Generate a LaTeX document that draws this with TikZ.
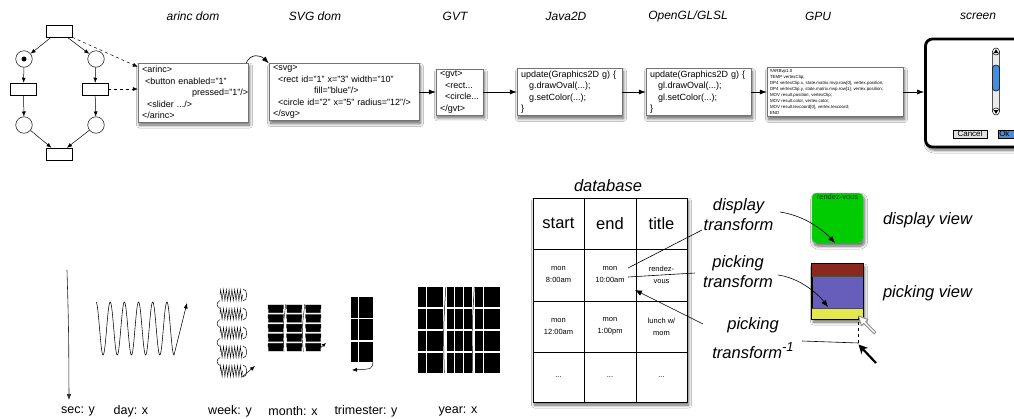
\documentclass[tikz,border=0pt]{standalone}
\usepackage{fontspec}
\setmainfont{Liberation Sans}
\usetikzlibrary{arrows.meta,shadows.blur,decorations.pathmorphing,calc}
\definecolor{viewgreen}{RGB}{0,204,0}
\definecolor{pred}{RGB}{139,40,30}
\definecolor{ppurple}{RGB}{102,94,186}
\definecolor{pyellow}{RGB}{229,232,77}
\definecolor{uiblue}{RGB}{74,140,216}
\begin{document}
\begin{tikzpicture}[x=1pt,y=-1pt,
  shad/.style={blur shadow={shadow xshift=1.5pt, shadow yshift=-3pt, shadow blur steps=8, shadow blur radius=3pt, shadow opacity=60}},
  codebox/.style={draw=black!55, line width=0.4pt, fill=white, shad, align=left, inner xsep=4pt, inner ysep=2pt, font=\fontsize{9}{11.4}\selectfont},
  title/.style={font=\fontsize{12}{14}\selectfont\itshape},
  biglabel/.style={font=\fontsize{16.5}{20}\selectfont\itshape, align=center, inner sep=1pt},
  tl/.style={font=\fontsize{12.5}{14}\selectfont},
  place/.style={circle, draw, line width=0.5pt, minimum size=16.5pt, inner sep=0pt},
  trans/.style={rectangle, draw, line width=0.5pt, minimum width=26pt, minimum height=12pt, inner sep=0pt},
  pn/.style={-{Latex[length=5pt,width=4pt]}, line width=0.5pt},
  flow/.style={-{Latex[length=7pt,width=5pt]}, line width=0.6pt},
  conn/.style={line width=0.6pt},
  carrow/.style={-{Latex[length=7pt,width=5.5pt]}, line width=0.6pt},
  dbhead/.style={font=\fontsize{16.5}{18}\selectfont, inner sep=0pt},
  dbcell/.style={font=\fontsize{7.5}{12}\selectfont, align=center, inner sep=0pt},
  zz/.style={line width=0.45pt, decorate},
  btn/.style={draw, line width=0.5pt, minimum height=8.5pt, inner ysep=0pt, font=\fontsize{8}{8}\selectfont}
]
\useasboundingbox (0,0) rectangle (1014,418);
\fill[white] (0,0) rectangle (1014,418);

% ---------- titles ----------
\node[title] (tarinc) at (193,16) {arinc dom};
\node[title] (tsvg) at (315,16) {SVG dom};
\node[title] (tgvt) at (455,16) {GVT};
\node[title] (tjava) at (566,16) {Java2D};
\node[title] (tgl) at (688,16) {OpenGL/GLSL};
\node[title] (tgpu) at (818,16) {GPU};
\node[title] (tscreen) at (978,16) {screen};

% ---------- Petri net ----------
\node[trans] (t0) at (59,31) {};
\node[place] (p1) at (24,59) {};
\node[circle, fill, inner sep=0pt, minimum size=5pt] (tok) at (24,59) {};
\node[place] (p2) at (96,59) {};
\node[trans] (t1) at (23.5,89) {};
\node[trans] (t2) at (95,89) {};
\node[place] (p3) at (24,125) {};
\node[place] (p4) at (96,125) {};
\node[trans] (t3) at (59,154) {};
\draw[pn] (t0) -- (p1);
\draw[pn] (t0) -- (p2);
\draw[pn] (p1) -- (t1);
\draw[pn] (p2) -- (t2);
\draw[pn] (t1) -- (p3);
\draw[pn] (t2) -- (p4);
\draw[pn] (p3) -- (t3);
\draw[pn] (p4) -- (t3);

% ---------- pipeline boxes ----------
\node[codebox, text width=102pt, minimum height=59pt] (arinc) at (193,92.5)
  {<arinc>\\\hspace*{3pt}<button enabled="1"\\\hspace*{50pt}pressed="1"/>\\\hspace*{5pt}<slider .../>\\</arinc>};
\node[codebox, text width=142pt, minimum height=57pt] (svg) at (344,92)
  {<svg>\\\hspace*{5pt}<rect id="1" x="3" width="10"\\\hspace*{41pt}fill="blue"/>\\\hspace*{5pt}<circle id="2" x="5" radius="12"/>\\</svg>};
\node[codebox, text width=39pt, minimum height=45pt] (gvt) at (459.5,92)
  {<gvt>\\\hspace*{5pt}<rect...\\\hspace*{5pt}<circle...\\</gvt>};
\node[codebox, text width=97pt, minimum height=47pt] (java) at (569.5,92)
  {update(Graphics2D g) \{\\\hspace*{8pt}g.drawOval(...);\\\hspace*{8pt}g.setColor(...);\\\}};
\node[codebox, text width=97pt, minimum height=47pt] (opengl) at (698.5,92)
  {update(Graphics2D g) \{\\\hspace*{8pt}gl.drawOval(...);\\\hspace*{8pt}gl.setColor(...);\\\}};
\node[codebox, text width=130pt, inner xsep=3pt, minimum height=47pt, font=\fontsize{4.4}{6}\selectfont] (gpu) at (835,92)
  {!!ARBvp1.0\\TEMP vertexClip;\\DP4 vertexClip.x, state.matrix.mvp.row[0], vertex.position;\\DP4 vertexClip.y, state.matrix.mvp.row[1], vertex.position;\\MOV result.position, vertexClip;\\MOV result.color, vertex.color;\\MOV result.texcoord[0], vertex.texcoord;\\END};

% screen
\node[draw, line width=2.8pt, rounded corners=7pt, fill=white, shad, minimum width=105pt, minimum height=108pt, inner sep=0pt] (screen) at (978,93) {};
\draw[fill=black!8, rounded corners=3.5pt, line width=0.5pt] (992.3,50) rectangle (999.7,113);
\draw[fill=uiblue, rounded corners=3.5pt, line width=0.5pt] (992.3,65) rectangle (999.7,91);
\draw[fill=white, line width=0.5pt] (996,51.5) circle (3.5pt);
\fill (996,49.2) -- (998.3,53) -- (993.7,53) -- cycle;
\draw[fill=white, line width=0.5pt] (996,111.5) circle (3.5pt);
\fill (996,113.8) -- (998.3,110) -- (993.7,110) -- cycle;
\node[btn, fill=black!12, minimum width=34pt, inner xsep=0pt] (cancel) at (970,134) {Cancel};
\node[btn, fill=uiblue, anchor=west, text width=22pt, inner xsep=1pt, align=left] (ok) at (998,134) {Ok};

% pipeline connectors
\draw[pn, dashed] (t0.south east) -- ([yshift=-4pt]arinc.north west);
\draw[pn, dashed] (t2.east) -- (t2.east -| arinc.west);
\draw[flow] ([xshift=-2pt]arinc.north east) .. controls +(5,-10) and +(-8,-8) .. (svg.north west);
\draw[flow] (svg.east) -- (svg.east -| gvt.west);
\draw[flow] (gvt.east) -- (gvt.east -| java.west);
\draw[flow] (java.east) -- (java.east -| opengl.west);
\draw[flow] (opengl.east) -- (opengl.east -| gpu.west);
\draw[flow] (gpu.east) -- (gpu.east -| screen.west);

% ---------- time scales ----------
\coordinate (sectop) at (67,270);
\coordinate (secbot) at (69,400);
\draw[-{Latex[length=6pt,width=4.5pt]}, line width=0.6pt, black!85] (sectop) .. controls (68.7,330) .. (secbot);

\draw[-{Latex[length=5.5pt,width=4pt]}, line width=0.55pt] plot[domain=0:5.5, samples=221, smooth] ({96+\x*14.18}, {328.5-26.5*cos(360*\x)}) -- (187,303);

% week
\foreach \i in {0,...,4} {
  \pgfmathsetmacro\c{295+19*\i}
  \draw[zz, decoration={zigzag, segment length=2.8pt, amplitude=5.5pt}] (220,\c) -- (243,\c);
  \draw[line width=0.45pt] (243,\c-6) .. controls (248,\c-6) and (248,\c+6) .. (243,\c+6);
}
\foreach \i in {0,...,3} {
  \pgfmathsetmacro\c{295+19*\i}
  \draw[line width=0.45pt] (220,\c+5.5) .. controls (216,\c+8) and (216,\c+11) .. (220,\c+13.5);
}
\draw[-{Latex[length=5pt,width=4pt]}, line width=0.5pt] (242,377) -- (255,366);

% month
\foreach \xx in {268,286.5,305.5} {
  \foreach \j in {0,...,4} {
    \draw[zz, decoration={zigzag, segment length=1pt, amplitude=4.2pt}] (\xx,308.8+9.6*\j) -- (\xx+15.5,308.8+9.6*\j);
  }
}
\draw[line width=0.4pt] (284,352) .. controls (282.5,330) .. (285.8,304);
\draw[line width=0.4pt] (303.3,352) .. controls (301.8,330) .. (304.8,304);
\draw[-{Latex[length=4pt,width=3.5pt]}, line width=0.5pt] (318,350) -- (326,343);

% trimester
\foreach \yy in {297,319.3,341.6} {
  \foreach \xx in {351,358.7,366.4} {
    \fill (\xx,\yy) rectangle ++(7,20.5);
  }
}
\draw[-{Latex[length=5pt,width=4pt]}, line width=0.5pt] (373,362) .. controls (372,369) .. (352,370);

% year
\foreach \bx in {418,446.5,475} {
  \foreach \yy in {287,309,331,353} {
    \foreach \s in {0,1,2} {
      \fill (\bx+\s*8.6,\yy) rectangle ++(7.9,20.3);
    }
  }
}
\draw[line width=0.5pt] (444.3,373) .. controls (443.3,330) .. (445.8,287);
\draw[line width=0.5pt] (472.8,373) .. controls (471.8,330) .. (474.3,287);

\node[tl] (lsec) at (78,411) {sec: y};
\node[tl] (lday) at (131,411) {day: x};
\node[tl] (lweek) at (230,411) {week: y};
\node[tl] (lmonth) at (293,411) {month: x};
\node[tl] (ltrim) at (366,411) {trimester: y};
\node[tl] (lyear) at (458,411) {year: x};

% ---------- database ----------
\node[biglabel] (dbl) at (608,186) {database};
\node[draw, line width=0.8pt, fill=white, shad, minimum width=154pt, minimum height=204pt, inner sep=0pt] (db) at (610,300) {};
\draw[line width=0.7pt] (584,198) -- (584,402) (636,198) -- (636,402);
\draw[line width=0.7pt] (533,249) -- (687,249) (533,301) -- (687,301) (533,352) -- (687,352);
\node[dbhead] (hstart) at (558.5,223.5) {start};
\node[dbhead] (hend) at (610,223.5) {end};
\node[dbhead] (htitle) at (661.5,223.5) {title};
\node[dbcell] (c11) at (558.5,275) {mon\\8:00am};
\node[dbcell] (c12) at (610,275) {mon\\10:00am};
\node[dbcell] (c13) at (661.5,275) {rendez-\\vous};
\node[dbcell] (c21) at (558.5,326.5) {mon\\12:00am};
\node[dbcell] (c22) at (610,326.5) {mon\\1:00pm};
\node[dbcell] (c23) at (661.5,326.5) {lunch w/\\mom};
\node[dbcell] (c31) at (558.5,377) {...};
\node[dbcell] (c32) at (610,377) {...};
\node[dbcell] (c33) at (661.5,377) {...};

% ---------- views ----------
\node[draw=black!35, fill=viewgreen, rounded corners=4pt, minimum width=51pt, minimum height=50pt, shad, inner sep=0pt] (dview) at (837.5,218) {};
\node[anchor=north, font=\fontsize{7.5}{8}\selectfont, text=black!75!green, inner sep=1.5pt] (dvtext) at (dview.north) {rendez-vous};
\node[draw, fill=ppurple, minimum width=51pt, minimum height=55pt, shad, inner sep=0pt, line width=0.7pt] (pview) at (837.5,291.5) {};
\fill[pred] (812,264) rectangle (863,276);
\fill[pyellow] (812,308) rectangle (863,319);
\draw[line width=0.6pt, black!70] (812,276) -- (863,276) (812,308) -- (863,308);
\draw[line width=0.8pt] (pview.north west) rectangle (pview.south east);

\node[biglabel] (dtl) at (738.5,215) {display\\transform};
\node[biglabel] (ptl) at (738,272) {picking\\transform};
\node[biglabel] (itl) at (753,338) {picking\\[9pt]transform\raisebox{7pt}{\fontsize{13}{13}\selectfont -1}};
\node[biglabel] (dvl) at (927.5,220) {display view};
\node[biglabel] (pvl) at (927.5,293) {picking view};

\coordinate (dA) at (628,268);
\coordinate (dB) at (702,230);
\coordinate (dC) at (780,212);
\coordinate (dD) at (835,243);
\coordinate (pA) at (628,277);
\coordinate (pB) at (695,273);
\coordinate (pC) at (778,275);
\coordinate (pD) at (828,307);
\coordinate (iA) at (703,324);
\coordinate (iB) at (635,290);
\coordinate (iC) at (802,341);
\coordinate (iD) at (858.5,343);
\coordinate (iE) at (858.5,316);
\draw[conn] (dA) -- (dB);
\draw[carrow] (dC) .. controls (806,216) and (824,231) .. (dD);
\draw[conn] (pA) -- (pB);
\draw[carrow] (pC) .. controls (800,278) and (818,294) .. (pD);
\draw[carrow] (iA) -- (iB);
\draw[conn] (iC) -- (iD);
\draw[conn, dashed] (iD) -- (iE);
% grey (old) cursor
\draw[black!45, fill=white, line width=0.9pt, line join=round]
  (iE) -- (861.4,325.7) -- (863.8,323.5) -- (874.1,333.9) -- (875.9,332.1) -- (865.6,321.7) -- (868.0,319.5) -- cycle;
% black (current) cursor
\coordinate (btail) at (876,363);
\draw[line width=2.2pt, -{Stealth[length=9pt, width=9pt, inset=2.5pt]}] (btail) -- ([yshift=-1.5pt]iD);
\end{tikzpicture}
\end{document}
